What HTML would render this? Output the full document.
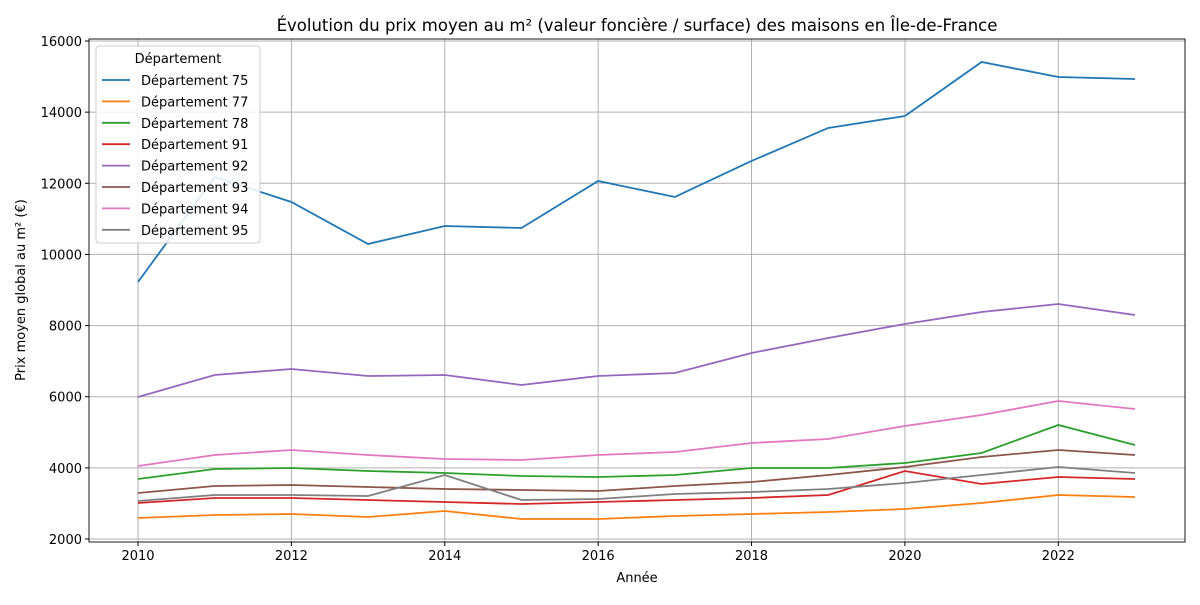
<!DOCTYPE html>
<html><head><meta charset="utf-8"><style>
body{margin:0;background:#fff;font-family:"Liberation Sans","DejaVu Sans",sans-serif}
svg text{font-family:"DejaVu Sans","Liberation Sans",sans-serif}
</style></head><body>
<svg id="chart" width="1200" height="600" xmlns="http://www.w3.org/2000/svg"></svg>
<script>
const years=[2010,2011,2012,2013,2014,2015,2016,2017,2018,2019,2020,2021,2022,2023];
const seriesNames=["Département 75","Département 77","Département 78","Département 91","Département 92","Département 93","Département 94","Département 95"];
const d75=[9225,12177,11474,10293,10800,10743,12065,11615,12627,13555,13892,15410,14988,14932];
const d77=[2590,2675,2703,2619,2787,2562,2562,2647,2703,2759,2843,3012,3237,3181];
const d78=[3687,3968,3996,3912,3856,3771,3743,3799,3996,3996,4137,4418,5205,4643];
const d91=[3012,3153,3153,3096,3040,2984,3040,3096,3153,3237,3912,3546,3743,3687];
const d92=[5992,6611,6779,6582,6611,6330,6582,6667,7229,7651,8045,8382,8607,8297];
const d93=[3293,3490,3518,3462,3406,3378,3349,3490,3602,3799,4024,4305,4502,4361];
const d94=[4052,4361,4502,4361,4249,4221,4361,4446,4699,4811,5177,5486,5880,5655];
const d95=[3068,3237,3237,3209,3799,3096,3125,3265,3321,3406,3574,3799,4024,3856];
const xTicks=[2010,2012,2014,2016,2018,2020,2022];
const yTicks=[2000,4000,6000,8000,10000,12000,14000,16000];
const colors=["#1f77b4","#ff7f0e","#2ca02c","#d62728","#9467bd","#8c564b","#e377c2","#7f7f7f"];
const allSeries=[d75,d77,d78,d91,d92,d93,d94,d95];
const L=89,R=1185,T=39,B=542;
const xs=v=>138+(v-2010)*(1135-138)/13;
const ys=v=>539-(v-2000)*(539-41)/14000;
const svg=document.getElementById('chart');
const NS="http://www.w3.org/2000/svg";
function mk(tag,at,parent){const e=document.createElementNS(NS,tag);for(const k in at)e.setAttribute(k,at[k]);(parent||svg).appendChild(e);return e;}
xTicks.forEach(t=>{const g=mk('line',{x1:xs(t),x2:xs(t),y1:T,y2:B,stroke:'#b0b0b0','stroke-width':1});


const tk=mk('line',{x1:xs(t),x2:xs(t),y1:B,y2:B+4,stroke:'#000'});


const tx=mk('text',{x:xs(t),y:B+18,'text-anchor':'middle','font-size':13});tx.textContent=t;

});
yTicks.forEach(t=>{const g=mk('line',{x1:L,x2:R,y1:ys(t),y2:ys(t),stroke:'#b0b0b0','stroke-width':1});


const tk=mk('line',{x1:L-4,x2:L,y1:ys(t),y2:ys(t),stroke:'#000'});


const tx=mk('text',{x:L-7,y:ys(t)+5,'text-anchor':'end','font-size':13});tx.textContent=t;

});
allSeries.forEach((s,i)=>{const p=mk('polyline',{points:s.map((v,j)=>xs(years[j])+','+ys(v)).join(' '),fill:'none',stroke:colors[i],'stroke-width':1.8});

});
const fr=mk('rect',{x:L,y:T,width:R-L,height:B-T,fill:'none',stroke:'#000','stroke-width':0.9});


const ti=mk('text',{x:637,y:31,'text-anchor':'middle','font-size':16.5});ti.textContent="Évolution du prix moyen au m² (valeur foncière / surface) des maisons en Île-de-France";


const xt=mk('text',{x:637,y:582,'text-anchor':'middle','font-size':13});xt.textContent="Année";


const yt=mk('text',{x:25,y:290,'text-anchor':'middle','font-size':13,transform:'rotate(-90 25 290)'});yt.textContent="Prix moyen global au m² (€)";


const lg=mk('g',{});


mk('rect',{x:96,y:46,width:164,height:197,rx:3,fill:'#fff','fill-opacity':0.85,stroke:'#ccc'},lg);
const lt=mk('text',{x:178,y:63,'text-anchor':'middle','font-size':13},lg);lt.textContent="Département";
seriesNames.forEach((n,i)=>{const y=80+i*21.4;
const e=mk('g',{},lg);


mk('line',{x1:102,x2:130,y1:y,y2:y,stroke:colors[i],'stroke-width':1.8},e);
const t=mk('text',{x:141,y:y+5,'font-size':13},e);t.textContent=n;});
</script>
</body></html>
